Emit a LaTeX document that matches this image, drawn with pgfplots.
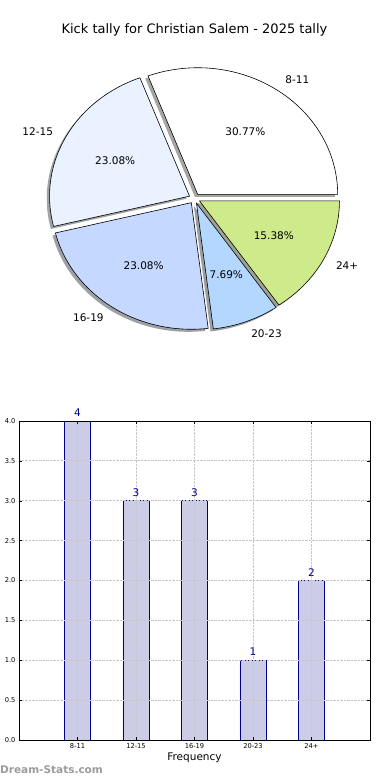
\documentclass[border=0pt]{standalone}
\usepackage{pgfplots}
\pgfplotsset{compat=1.18}
\usepackage{fontspec}
\setmainfont{DejaVu Sans}

\definecolor{cA}{RGB}{255,255,255}
\definecolor{cB}{RGB}{234,241,255}
\definecolor{cC}{RGB}{197,216,255}
\definecolor{cD}{RGB}{179,215,255}
\definecolor{cE}{RGB}{207,234,139}
\definecolor{barfill}{RGB}{204,204,230}
\definecolor{baredge}{RGB}{0,0,139}
\definecolor{wm}{RGB}{155,155,155}

\newcommand\labfont{\fontsize{10.5}{12}\selectfont}
\def\expl{0.04}

\newcommand\shadowslice[3]{%
  \pgfmathsetmacro\sm{(#1+#2)/2}%
  \pgfmathsetmacro\ex{\expl*cos(\sm)-0.02}%
  \pgfmathsetmacro\ey{\expl*sin(\sm)-0.02}%
  \edef\temp{\noexpand\addplot[draw=none, fill=#3!30!black, fill opacity=0.5, domain=#1:#2, samples=90] ({\ex+cos(x)},{\ey+sin(x)}) -- (axis cs:\ex,\ey) -- cycle;}%
  \temp}
\newcommand\slice[3]{%
  \pgfmathsetmacro\sm{(#1+#2)/2}%
  \pgfmathsetmacro\ex{\expl*cos(\sm)}%
  \pgfmathsetmacro\ey{\expl*sin(\sm)}%
  \edef\temp{\noexpand\addplot[draw=black, line width=0.6pt, fill=#3, domain=#1:#2, samples=90] ({\ex+cos(x)},{\ey+sin(x)}) -- (axis cs:\ex,\ey) -- cycle;}%
  \temp}
\newcommand\slicelabels[4]{%
  \pgfmathsetmacro\sm{(#1+#2)/2}%
  \pgfmathsetmacro\ex{\expl*cos(\sm)}%
  \pgfmathsetmacro\ey{\expl*sin(\sm)}%
  \pgfmathsetmacro\lx{\ex+1.1*cos(\sm)}%
  \pgfmathsetmacro\ly{\ey+1.1*sin(\sm)}%
  \pgfmathsetmacro\px{\ex+0.6*cos(\sm)}%
  \pgfmathsetmacro\py{\ey+0.6*sin(\sm)}%
  \ifdim\lx pt>\ex pt \def\anc{west}\else\def\anc{east}\fi
  \edef\temp{\noexpand\node[anchor=\anc, inner sep=0pt, font=\noexpand\labfont] at (axis cs:\lx,\ly) {#3}; \noexpand\node[inner sep=0pt, font=\noexpand\labfont] at (axis cs:\px,\py) {#4};}%
  \temp}

% data: 8-11:4, 12-15:3, 16-19:3, 20-23:1, 24+:2 (total 13)
\pgfmathsetmacro\tot{4+3+3+1+2}
\pgfmathsetmacro\aA{0}
\pgfmathsetmacro\aB{\aA+360*4/\tot}
\pgfmathsetmacro\aC{\aB+360*3/\tot}
\pgfmathsetmacro\aD{\aC+360*3/\tot}
\pgfmathsetmacro\aE{\aD+360*1/\tot}
\pgfmathsetmacro\aF{\aE+360*2/\tot}

\begin{document}
\begin{tikzpicture}
\path[use as bounding box] (0pt,0pt) rectangle (390pt,-780pt);
\node[font=\fontsize{13}{15}\selectfont] at (194.5pt,-30pt) {Kick tally for Christian Salem - 2025 tally};

\begin{axis}[
  at={(194.5pt,-198.5pt)}, anchor=center,
  x=140pt, y=126.6pt, hide axis, clip=false,
  xmin=-1.4, xmax=1.4, ymin=-1.4, ymax=1.4, enlargelimits=false,
]
\shadowslice{\aA}{\aB}{cA}
\shadowslice{\aB}{\aC}{cB}
\shadowslice{\aC}{\aD}{cC}
\shadowslice{\aD}{\aE}{cD}
\shadowslice{\aE}{\aF}{cE}
\slice{\aA}{\aB}{cA}
\slice{\aB}{\aC}{cB}
\slice{\aC}{\aD}{cC}
\slice{\aD}{\aE}{cD}
\slice{\aE}{\aF}{cE}
\slicelabels{\aA}{\aB}{8-11}{30.77\%}
\slicelabels{\aB}{\aC}{12-15}{23.08\%}
\slicelabels{\aC}{\aD}{16-19}{23.08\%}
\slicelabels{\aD}{\aE}{20-23}{7.69\%}
\slicelabels{\aE}{\aF}{24+}{15.38\%}
\end{axis}

\begin{axis}[
  at={(19pt,-740pt)}, anchor=south west, scale only axis,
  width=351pt, height=319pt,
  xmin=-1, xmax=5, ymin=0, ymax=4,
  xtick={0,1,2,3,4}, xticklabels={8-11,12-15,16-19,20-23,24+},
  ytick={0,0.5,...,4},
  yticklabel style={/pgf/number format/.cd,fixed,fixed zerofill,precision=1},
  /pgf/number format/assume math mode=true,
  tick label style={font=\fontsize{6.7}{7}\selectfont},
  xlabel={Frequency}, xlabel style={font=\fontsize{10.5}{12}\selectfont, yshift=3pt},
  grid=major, grid style={densely dotted, black!22, line width=0.8pt},
  axis on top, clip=false,
  axis line style={line width=0.8pt},
  major tick length=3pt, tick style={black, line width=0.5pt},
  nodes near coords,
  nodes near coords style={font=\fontsize{10.5}{12}\selectfont, text=baredge, inner sep=0pt, anchor=south, yshift=4pt},
]
\addplot[ybar, bar width=0.45, fill=barfill, draw=baredge, line width=0.6pt]
  coordinates {(0,4) (1,3) (2,3) (3,1) (4,2)};
\end{axis}

\node[anchor=west, inner sep=0pt, text=wm, font=\bfseries\fontsize{10.5}{12}\selectfont] at (0pt,-770pt) {Dream-Stats.com};
\end{tikzpicture}
\end{document}
